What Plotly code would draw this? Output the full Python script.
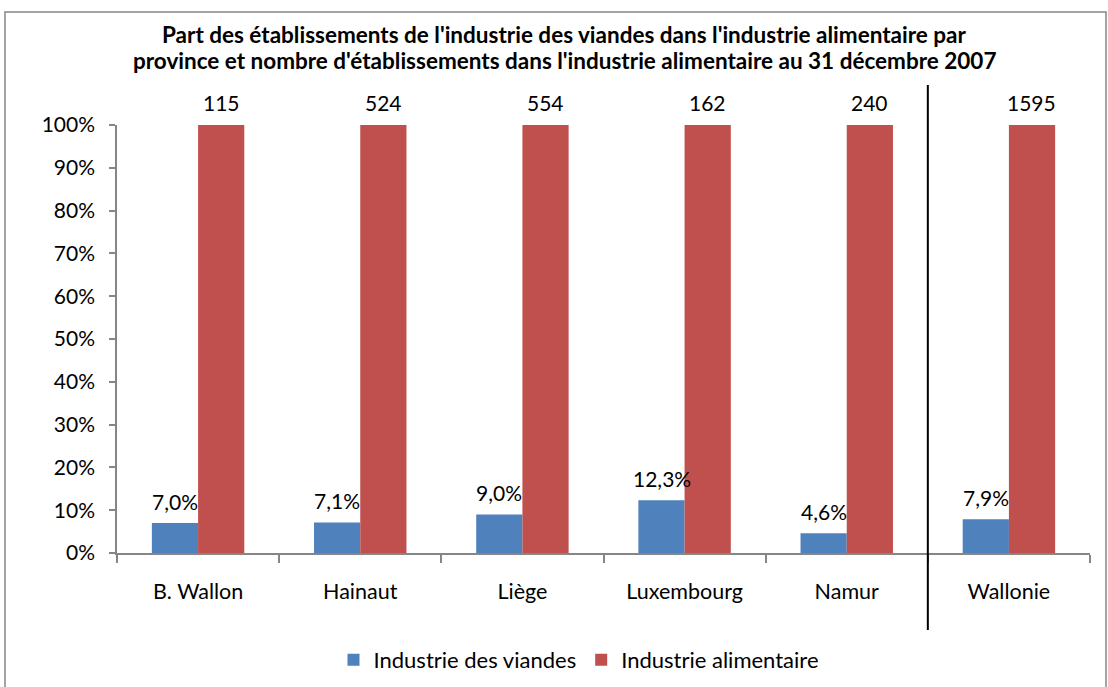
import plotly.graph_objects as go

categories = ["B. Wallon", "Hainaut", "Liège", "Luxembourg", "Namur", "Wallonie"]
viandes_pct = [7.0, 7.1, 9.0, 12.3, 4.6, 7.9]
alimentaire_pct = [100, 100, 100, 100, 100, 100]
alimentaire_count = [115, 524, 554, 162, 240, 1595]
title_lines = [
    "Part des établissements de l'industrie des viandes dans l'industrie alimentaire par",
    "province et nombre d'établissements dans l'industrie alimentaire au 31 décembre 2007",
]

BLUE = "#4F81BD"
RED = "#C0504D"
AXIS = "#868686"
FONT = "Lato, Carlito, Calibri, sans-serif"

W, H = 1108, 687
L, R, T, B = 117, 18, 125, 134
pw = W - L - R
ph = H - T - B

def px_x(p):
    return (p - L) / pw

def px_y(p):
    return (H - B - p) / ph

fig = go.Figure()
fig.add_trace(go.Bar(name="Industrie des viandes", x=categories, y=viandes_pct,
                     marker=dict(color=BLUE, line=dict(width=0))))
fig.add_trace(go.Bar(name="Industrie alimentaire", x=categories, y=alimentaire_pct,
                     marker=dict(color=RED, line=dict(width=0))))

annotations = []
for c, v in zip(categories, viandes_pct):
    annotations.append(dict(x=c, y=v, xref="x", yref="y", xshift=-23, yshift=22,
                            text=f"{v:.1f}%".replace(".", ","), showarrow=False,
                            font=dict(family=FONT, size=21, color="#000")))
for c, v, n in zip(categories, alimentaire_pct, alimentaire_count):
    annotations.append(dict(x=c, y=v, xref="x", yref="y", xshift=23, yshift=23,
                            text=str(n), showarrow=False,
                            font=dict(family=FONT, size=21, color="#000")))
for line, ypx in zip(title_lines, [35, 60]):
    annotations.append(dict(x=px_x(564), y=px_y(ypx), xref="paper", yref="paper",
                            xanchor="center", yanchor="middle", text=f"<b>{line}</b>",
                            showarrow=False,
                            font=dict(family=FONT, size=22.5, color="#000")))

shapes = [
    dict(type="line", xref="x", yref="paper", x0=4.5, x1=4.5,
         y0=px_y(630), y1=px_y(85), line=dict(color="#000", width=2)),
    dict(type="rect", xref="paper", yref="paper", x0=px_x(5), x1=px_x(1106),
         y0=px_y(688), y1=px_y(12), line=dict(color=AXIS, width=1.5)),
]

fig.update_layout(
    width=W, height=H,
    margin=dict(l=L, r=R, t=T, b=B, autoexpand=False),
    paper_bgcolor="white", plot_bgcolor="white",
    barmode="group", bargap=0.43, bargroupgap=0,
    font=dict(family=FONT, size=21, color="#000"),
    xaxis=dict(showgrid=False, showline=True, linecolor=AXIS, linewidth=1.5,
               ticks="outside", tickson="boundaries", ticklen=8, tickcolor=AXIS,
               tickwidth=1.5, ticklabelstandoff=18, tickfont=dict(size=21.5)),
    yaxis=dict(range=[0, 100], dtick=10, ticksuffix="%", showgrid=False,
               showline=True, linecolor=AXIS, linewidth=1.5, ticks="outside",
               ticklen=6, tickcolor=AXIS, tickwidth=1.5, ticklabelstandoff=10,
               zeroline=False, tickfont=dict(size=21)),
    legend=dict(orientation="h", x=px_x(579), xanchor="center", y=px_y(660),
                yanchor="middle", font=dict(size=22), itemwidth=30),
    annotations=annotations,
    shapes=shapes,
    showlegend=True,
)

fig.write_html("out.html", config={"displayModeBar": False},
               post_script="document.body.style.margin='0';document.body.style.overflow='hidden';")
